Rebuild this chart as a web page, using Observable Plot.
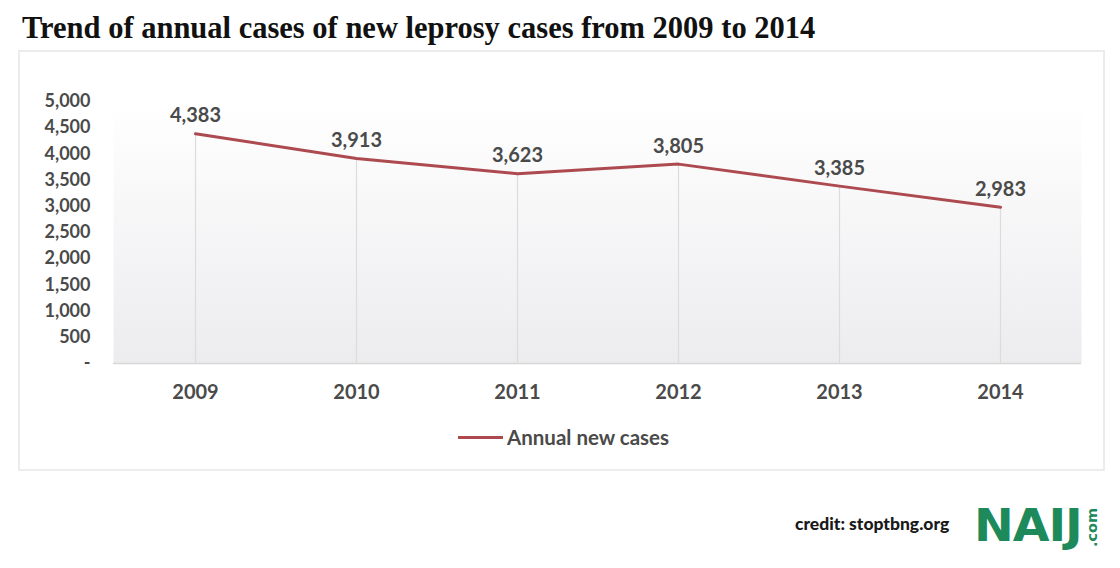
<!DOCTYPE html>
<html>
<head>
<meta charset="utf-8">
<script src="https://cdn.jsdelivr.net/npm/d3@7"></script>
<script src="https://cdn.jsdelivr.net/npm/@observablehq/plot@0.6"></script>
<style>
  html, body { margin: 0; padding: 0; background: #ffffff; }
  #wrap { position: relative; width: 1120px; height: 568px; overflow: hidden; background: #fff; }
  #title { position: absolute; left: 22px; top: 11px; font-family: "Liberation Serif", serif; font-weight: bold; font-size: 30.5px; color: #111; white-space: nowrap; }
  #box { position: absolute; left: 18px; top: 50px; width: 1087px; height: 421px; border: 2px solid #ececec; box-sizing: border-box; }
  #chart { position: absolute; left: 0; top: 52px; }
  #legend { position: absolute; left: 458px; top: 425px; font-family: Lato, sans-serif; font-weight: bold; font-size: 20.5px; color: #4a4a4a; display: flex; align-items: center; }
  #legend .sw { width: 45px; height: 3px; background: #ad4a50; margin-right: 4px; }
  #credit { position: absolute; left: 795px; top: 513px; font-family: Lato, sans-serif; font-weight: 900; font-size: 17.5px; color: #1a1a1a; }
  #logo { position: absolute; left: 974px; top: 500px; font-family: "DejaVu Sans", sans-serif; font-weight: bold; font-size: 44px; color: #1e8a5c; letter-spacing: -1px; transform: scaleX(1.08); transform-origin: left; }
  #com { position: absolute; left: 1085px; top: 547px; font-family: "DejaVu Sans", sans-serif; font-weight: bold; font-size: 14.5px; line-height: 15px; color: #1e8a5c; transform: rotate(-90deg); transform-origin: left top; white-space: nowrap; }
</style>
</head>
<body>
<div id="wrap">
  <div id="title">Trend of annual cases of new leprosy cases from 2009 to 2014</div>
  <div id="box"></div>
  <div id="chart"></div>
  <div id="legend"><span class="sw"></span><span>Annual new cases</span></div>
  <div id="credit">credit: stoptbng.org</div>
  <div id="logo">NAIJ</div>
  <div id="com">.com</div>
</div>
<script>
const years = ["2009", "2010", "2011", "2012", "2013", "2014"];
const cases = [4383, 3913, 3623, 3805, 3385, 2983];
const yTicks = [0, 500, 1000, 1500, 2000, 2500, 3000, 3500, 4000, 4500, 5000];
const seriesName = "Annual new cases";

const data = years.map((y, i) => ({year: y, value: cases[i], series: seriesName}));
const fmt = d3.format(",");
const lineColor = "#ad4a50";

const plot = Plot.plot({
  width: 1120,
  height: 420,
  marginTop: 49,
  marginBottom: 109,
  marginLeft: 113,
  marginRight: 39,
  style: {fontFamily: "Lato, sans-serif", fontWeight: "bold", color: "#4a4a4a", background: "transparent"},
  x: {type: "point", domain: years, padding: 0.5, label: null, tickSize: 0, tickPadding: 22},
  y: {domain: [0, 5000], ticks: yTicks, label: null, tickSize: 0, tickPadding: 23,
      tickFormat: d => d === 0 ? "-" : fmt(d)},
  marks: [
    Plot.frame({fill: "url(#bgGrad)", stroke: "none"}),
    Plot.ruleY([0], {stroke: "#d6d6d6", strokeWidth: 1.5}),
    Plot.ruleX(data, {x: "year", y1: 0, y2: "value", stroke: "#dcdcdc", strokeWidth: 1.2}),
    Plot.axisY({ticks: yTicks, tickSize: 0, tickPadding: 23, fontSize: 18, tickFormat: d => d === 0 ? "-" : fmt(d)}),
    Plot.axisX({tickSize: 0, tickPadding: 21, fontSize: 20}),
    Plot.line(data, {x: "year", y: "value", stroke: lineColor, strokeWidth: 3}),
    Plot.text(data, {x: "year", y: "value", text: d => fmt(d.value), dy: -18, fontSize: 20, fill: "#4a4a4a"})
  ]
});

const svg = d3.select(plot);
const defs = svg.insert("defs", ":first-child");
const g = defs.append("linearGradient").attr("id", "bgGrad").attr("x1", 0).attr("y1", 0).attr("x2", 0).attr("y2", 1);
g.append("stop").attr("offset", "0%").attr("stop-color", "#ffffff");
g.append("stop").attr("offset", "100%").attr("stop-color", "#ececef");

document.getElementById("chart").appendChild(plot);
</script>
</body>
</html>
